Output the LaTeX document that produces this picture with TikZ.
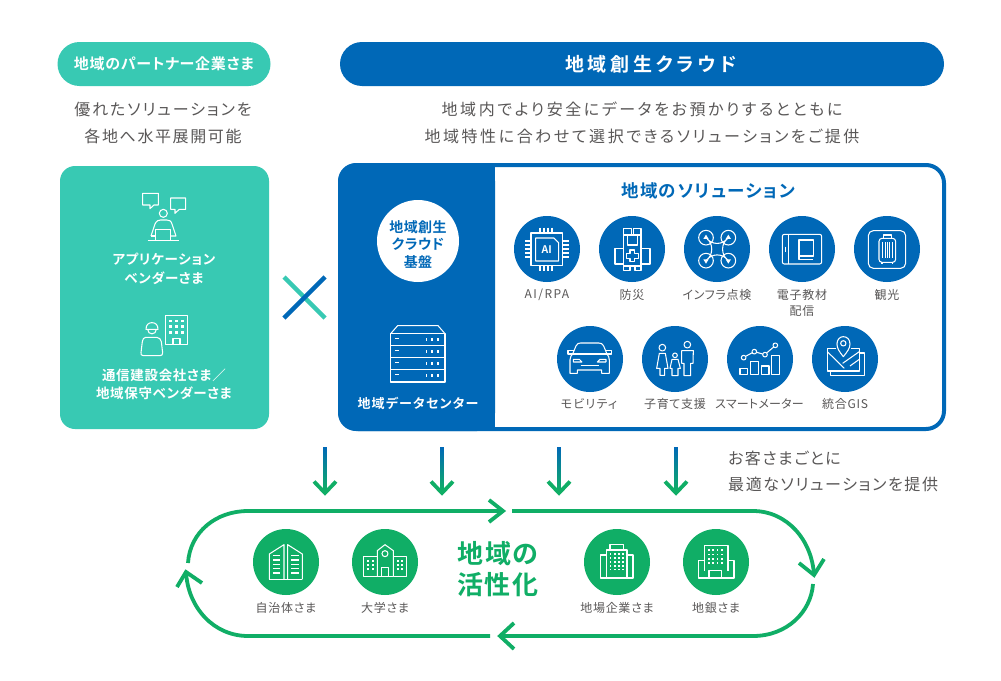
\documentclass[tikz,border=0pt]{standalone}
\usepackage{fontspec}
\setmainfont{Noto Sans CJK JP}[RawFeature=+palt]
\newfontfamily\jpb{Noto Sans CJK JP Bold}[RawFeature=+palt]
\definecolor{teal}{HTML}{38C9B3}
\definecolor{cblue}{HTML}{0068B7}
\definecolor{cgreen}{HTML}{10AE66}
\definecolor{tgray}{HTML}{595757}
\tikzset{
 x=1pt,y=-1pt,
 ic/.style={draw=white,line width=1.05pt,line join=round,fill=none},
 gt/.style={text=tgray,inner sep=0pt,font=\fontsize{16}{16}\addfontfeature{LetterSpace=#1}\selectfont},
 gt/.default=16,
 lb/.style={text=tgray,inner sep=0pt,font=\fontsize{12}{12}\addfontfeature{LetterSpace=#1}\selectfont},
 lb/.default=6,
 wb/.style={text=white,inner sep=0pt,font=\fontsize{13.5}{14}\jpb\addfontfeature{LetterSpace=5}\selectfont},
 bs/.style={inner sep=0pt,text=cblue,font=\fontsize{14}{14}\jpb\addfontfeature{LetterSpace=3}\selectfont},
 cs/.style={inner sep=0pt,text=cgreen,font=\fontsize{26}{26}\jpb\addfontfeature{LetterSpace=5}\selectfont},
 bc/.style={circle,fill=cblue,minimum size=66pt,inner sep=0pt},
 gc/.style={circle,fill=cgreen,minimum size=66pt,inner sep=0pt},
 loopl/.style={draw=cgreen,line width=3.8pt},
 zoomA/.style={shift={(40,150)},x=.3333pt,y=-.3333pt},
 zoomB/.style={shift={(340,160)},x=.3333pt,y=-.3333pt},
 zoomC/.style={shift={(650,200)},x=.3333pt,y=-.3333pt},
 zoomD/.style={shift={(170,500)},x=.3333pt,y=-.3333pt},
 zoomE/.style={shift={(490,500)},x=.3333pt,y=-.3333pt},
}
\begin{document}
\begin{tikzpicture}
\useasboundingbox (0,0) rectangle (1001,680);
\fill[white] (0,0) rectangle (1001,680);
% pills
\node[fill=teal,rounded corners=22pt,minimum width=213pt,minimum height=44pt,inner sep=0pt] (pillL) at (164,64) {};
\node[text=white,inner sep=0pt,font=\fontsize{15}{15}\jpb\addfontfeature{LetterSpace=5}\selectfont] (pillLt) at (pillL) {地域のパートナー企業さま};
\node[fill=cblue,rounded corners=22pt,minimum width=604pt,minimum height=44pt,inner sep=0pt] (pillR) at (642,64) {};
\node[text=white,inner sep=0pt,font=\fontsize{19}{19}\jpb\addfontfeature{LetterSpace=20}\selectfont] (pillRt) at (651,64) {地域創生クラウド};
% texts
\node[gt=12] (t1) at (163,109.5) {優れたソリューションを};
\node[gt=10] (t2) at (163,136.5) {各地へ水平展開可能};
\node[gt] (t3) at (642,109.5) {地域内でより安全にデータをお預かりするとともに};
\node[gt] (t4) at (642,136.5) {地域特性に合わせて選択できるソリューションをご提供};
% boxes
\fill[teal,rounded corners=15pt] (60,166) rectangle (269,429);
\draw[cblue,line width=4pt,fill=white,rounded corners=18pt] (340,165) rectangle (944,429);
\fill[cblue,rounded corners=18pt] (338,163) -- (495,163) -- (495,431) -- (338,431) -- cycle;
\fill[cblue] (400,163) rectangle (495,431);
% cross
\coordinate (xa) at (284,277); \coordinate (xb) at (325,318);
\coordinate (xc) at (325,277); \coordinate (xd) at (284,318);
\draw[teal,line width=4.5pt] (xa) -- (xb);
\draw[cblue,line width=4.5pt] (xc) -- (xd);
% teal labels
\node[wb] (a1) at (164,259) {アプリケーション};
\node[wb] (a2) at (164,278) {ベンダーさま};
\node[wb] (a3) at (164,375) {通信建設会社さま／};
\node[wb] (a4) at (164,393) {地域保守ベンダーさま};
% teal icons
\begin{scope}[zoomA]
\draw[ic] (308,130) -- (355,130) -- (355,165) -- (342,165) -- (330,176) -- (330,165) -- (308,165) -- cycle;
\draw[ic] (392,144) -- (437,144) -- (437,178) -- (418,178) -- (405,190) -- (405,178) -- (392,178) -- cycle;
\draw[ic] (370,190) circle[radius=12];
\draw[ic] (333,258) -- (345,222) .. controls (350,212) and (355,210) .. (362,210) -- (380,210) .. controls (388,210) and (393,212) .. (396,222) -- (408,258) -- (392,258);
\draw[ic] (333,258) -- (347,258);
\draw[ic] (347,272) -- (347,238) -- (392,238) -- (392,272);
\draw[ic] (323,272) -- (418,272);
% worker & building
\draw[ic] (376,497) rectangle (443,584);
\foreach \yy in {513,530,548} \foreach \xx in {392,409,428} \fill[white] (\xx-4,\yy-4) rectangle (\xx+4,\yy+4);
\draw[ic] (399,584) -- (399,565) -- (420,565) -- (420,584);
\draw[ic] (318,538) .. controls (318,525) and (325,518) .. (336,518) .. controls (347,518) and (354,525) .. (354,538) -- cycle;
\draw[ic] (323,538) .. controls (323,556) and (349,556) .. (349,538);
\draw[ic] (317,562) -- (350,562) .. controls (358,562) and (362,568) .. (364,575) -- (368,608) .. controls (368,614) and (366,617) .. (360,617) -- (310,617) .. controls (304,617) and (302,613) .. (303,608) -- (307,575) .. controls (308,568) and (311,562) .. (317,562) -- cycle;
\end{scope}
% blue side
\node[circle,fill=white,minimum size=82pt,inner sep=0pt] (base) at (418,241) {};
\node[bs] (b1) at (418,227) {地域創生};
\node[bs] (b2) at (418,244) {クラウド};
\node[bs] (b3) at (418,262) {基盤};
\begin{scope}[zoomB]
\draw[ic] (152,521) -- (173,497) -- (294,497) -- (315,521);
\draw[ic] (152,521) rectangle (315,666);
\foreach \yy in {557,593,629} \draw[ic] (152,\yy) -- (315,\yy);
\foreach \yy in {539,575,611,647} {
 \draw[white,line width=.9pt] (165,\yy-3) -- (178,\yy-3);
 \foreach \xx in {260,276,294} \draw[white,line width=1.1pt] (\xx,\yy-4) -- (\xx,\yy+3);
}
\end{scope}
\node[text=white,inner sep=0pt,font=\fontsize{13}{13}\jpb\addfontfeature{LetterSpace=9}\selectfont] (dc) at (418,403) {地域データセンター};
\node[inner sep=0pt,text=cblue,font=\fontsize{17.5}{18}\jpb\addfontfeature{LetterSpace=8}\selectfont] (title) at (708,191) {地域のソリューション};
% solution circles
\node[bc] (s1) at (547,249) {};
\node[bc] (s2) at (632,249) {};
\node[bc] (s3) at (717,249) {};
\node[bc] (s4) at (802,249) {};
\node[bc] (s5) at (887,249) {};
\node[bc] (s6) at (590,359) {};
\node[bc] (s7) at (675,359) {};
\node[bc] (s8) at (760,359) {};
\node[bc] (s9) at (845,359) {};
\node[lb=12] (l1) at (547,295) {AI/RPA};
\node[lb] (l2) at (632,295) {防災};
\node[lb] (l3) at (717,295) {インフラ点検};
\node[lb] (l4) at (802,295) {電子教材};
\node[lb] (l4b) at (802,311) {配信};
\node[lb] (l5) at (887,295) {観光};
\node[lb=10] (l6) at (589,404) {モビリティ};
\node[lb] (l7) at (675,404) {子育て支援};
\node[lb=2] (l8) at (759.5,404) {スマートメーター};
\node[lb] (l9) at (845,404) {統合GIS};
% icons zoom B
\begin{scope}[zoomB]
% chip
\draw[ic] (573,219) -- (668,219) -- (668,316) -- (573,316) -- cycle;
\draw[ic] (587,234) -- (642,234) -- (656,248) -- (656,303) -- (587,303) -- cycle;
\foreach \xx in {600,612,624,636} {\draw[ic] (\xx,203) -- (\xx,219); \draw[ic] (\xx,316) -- (\xx,332);}
\foreach \yy in {243,255,267,279,291} {\draw[ic] (556,\yy) -- (573,\yy); \draw[ic] (668,\yy) -- (686,\yy);}
\node[inner sep=0pt,text=white,font=\fontsize{10.5}{10.5}\jpb\selectfont] (ai) at (620,268) {AI};
% backpack
\draw[ic] (851,225) -- (903,225) -- (903,318) -- (851,318) -- cycle;
\draw[ic] (851,265) -- (825,265) -- (825,312) -- (851,312);
\draw[ic] (903,265) -- (930,265) -- (930,312) -- (903,312);
\draw[ic] (851,225) -- (851,205) -- (875,205) -- (875,225);
\draw[ic] (880,225) -- (880,205) -- (903,205) -- (903,225);
\draw[ic] (851,318) -- (851,332) -- (870,332) -- (870,318);
\draw[ic] (885,318) -- (885,332) -- (903,332) -- (903,318);
\draw[ic] (862,225) -- (862,255) -- (892,255) -- (892,225);
\draw[ic] (870,270) -- (884,270) -- (884,281) -- (895,281) -- (895,295) -- (884,295) -- (884,305) -- (870,305) -- (870,295) -- (859,295) -- (859,281) -- (870,281) -- cycle;
% car
\draw[ic] (690,640) -- (690,600) .. controls (690,590) and (695,585) .. (698,582) -- (708,558) .. controls (711,551) and (716,549) .. (722,549) -- (776,549) .. controls (783,549) and (788,551) .. (791,558) -- (801,582) .. controls (805,587) and (808,592) .. (808,600) -- (808,640) -- (785,640) -- (785,630) -- (712,630) -- (712,640) -- cycle;
\draw[ic] (698,582) -- (801,582);
\draw[ic] (698,582) -- (684,582) -- (684,572) -- (703,572);
\draw[ic] (801,582) -- (815,582) -- (815,572) -- (796,572);
\draw[ic] (700,598) -- (718,598) -- (726,606) -- (700,606) -- cycle;
\draw[ic] (798,598) -- (780,598) -- (772,606) -- (798,606) -- cycle;
\draw[ic] (722,617) -- (776,617);
\end{scope}
% icons zoom C
\begin{scope}[zoomC]
% drone
\foreach \xx/\yy in {168/113,235/113,168/182,235/182} \draw[ic] (\xx,\yy) circle[radius=22];
\draw[ic] (168,113) .. controls (185,136) and (218,136) .. (235,113) .. controls (212,130) and (212,165) .. (235,182) .. controls (218,159) and (185,159) .. (168,182) .. controls (191,165) and (191,130) .. (168,113) -- cycle;
\fill[white] (168,104) -- (176,117) -- (160,117) -- cycle;
\fill[white] (235,104) -- (243,117) -- (227,117) -- cycle;
\fill[white] (168,191) -- (176,178) -- (160,178) -- cycle;
\fill[white] (235,191) -- (243,178) -- (227,178) -- cycle;
% tablet
\draw[ic,rounded corners=2pt] (397,103) rectangle (515,192);
\draw[ic] (415,103) -- (415,192);
\draw[white,line width=1pt] (408,140) -- (408,155);
\draw[ic] (447,120) rectangle (490,168);
\draw[ic] (447,168) -- (447,178) -- (490,178);
% suitcase
\draw[ic,rounded corners=5pt] (655,92) rectangle (767,205);
\draw[ic,rounded corners=3pt] (687,115) rectangle (737,187);
\draw[ic] (700,115) -- (700,105) -- (724,105) -- (724,115);
\foreach \xx in {698,706,712,718,726} \draw[white,line width=.8pt] (\xx,127) -- (\xx,175);
\draw[ic] (696,187) -- (696,193); \draw[ic] (728,187) -- (728,193);
% family
\draw[ic] (37,443) circle[radius=10];
\draw[ic] (112,434) circle[radius=10];
\draw[ic] (75,466) circle[radius=7];
\draw[ic] (28,460) -- (46,460) -- (54,505) -- (44,505) -- (44,526) -- (30,526) -- (30,505) -- (20,505) -- cycle;
\draw[ic] (66,478) -- (84,478) -- (91,505) -- (84,505) -- (84,527) -- (66,527) -- (66,505) -- (60,505) -- cycle;
\draw[ic] (95,452) -- (130,452) -- (129,490) -- (122,490) -- (122,527) -- (102,527) -- (102,490) -- (95,490) -- cycle;
% meter
\draw[ic] (270,505) rectangle (293,524);
\draw[ic] (302,484) rectangle (325,524);
\draw[ic] (334,498) rectangle (357,524);
\draw[ic] (365,467) rectangle (388,524);
\draw[ic] (281,473) circle[radius=7];
\draw[ic] (313,455) circle[radius=7];
\draw[ic] (345,464) circle[radius=7];
\draw[ic] (376,436) circle[radius=7];
\draw[ic] (287,469) -- (307,458);
\draw[ic] (320,457) -- (338,462);
\draw[ic] (350,459) -- (371,441);
% map
\draw[ic] (532,446) -- (558,446);
\draw[ic] (532,446) -- (532,513) -- (628,513) -- (628,446) -- (602,446);
\draw[ic] (542,513) -- (542,526) -- (643,526) -- (643,459) -- (628,459);
\draw[ic] (532,455) -- (583,505);
\draw[ic] (628,455) -- (578,490);
\draw[ic] (600,498) -- (628,478);
\draw[ic] (580,470) .. controls (568,455) and (561,445) .. (561,432) .. controls (561,418) and (570,410) .. (580,410) .. controls (591,410) and (600,418) .. (600,432) .. controls (600,445) and (592,455) .. (580,470) -- cycle;
\draw[ic] (580,430) circle[radius=8];
\end{scope}
% down arrows
\foreach \i/\xx in {1/325,2/442,3/559,4/676}{
 \coordinate (dt\i) at (\xx,447);
 \coordinate (db\i) at (\xx,493);
 \coordinate (da\i) at (\xx-11,481.5);
 \coordinate (dc\i) at (\xx+11,481.5);
 \path[top color=cblue,bottom color=cgreen] (\xx-1.9,447) rectangle (\xx+1.9,490);
 \draw[cgreen,line width=3.8pt] (da\i) -- (db\i) -- (dc\i);
}
\node[gt=9,anchor=west] (n1) at (728,458.5) {お客さまごとに};
\node[gt=10,anchor=west] (n2) at (728,484.5) {最適なソリューションを提供};
% loop
\coordinate (p1) at (248,511);
\coordinate (p2) at (503,511);
\coordinate (p3) at (512,511);
\coordinate (p4) at (753,511);
\coordinate (p5) at (814,575);
\coordinate (p6) at (813,584);
\coordinate (p7) at (753,636);
\coordinate (p8) at (500,636);
\coordinate (p9) at (248,636);
\coordinate (p10) at (186,572);
\coordinate (p11) at (188,563);
\draw[loopl] (p11) .. controls (190,532) and (216,511) .. (p1) -- (p2);
\draw[loopl] (p3) -- (p4) .. controls (787,511) and (812,540) .. (p5);
\draw[loopl] (p6) .. controls (811,612) and (787,636) .. (p7) -- (p8);
\draw[loopl] (490,636) -- (p9) .. controls (214,636) and (188,608) .. (p10);
\draw[loopl] (489,500) -- (p2) -- (489,522);
\draw[loopl] (799,563) -- (p5) -- (824,559);
\draw[loopl] (514,623) -- (p8) -- (514,649);
\draw[loopl] (177,587) -- (p10) -- (202,583);
\node[cs] (c1) at (498,554) {地域の};
\node[cs] (c2) at (498,585) {活性化};
\node[gc] (g1) at (286,562) {};
\node[gc] (g2) at (385,562) {};
\node[gc] (g3) at (617,562) {};
\node[gc] (g4) at (716,562) {};
\node[lb] (gl1) at (286,608) {自治体さま};
\node[lb] (gl2) at (385,608) {大学さま};
\node[lb] (gl3) at (617,608) {地場企業さま};
\node[lb] (gl4) at (716,608) {地銀さま};
\begin{scope}[zoomD]
\draw[ic] (298,238) -- (298,162) -- (342,134) -- (342,238);
\draw[ic] (353,238) -- (353,134) -- (397,162) -- (397,238);
\draw[ic] (298,238) -- (397,238);
\foreach \yy in {167,180,193,206,219} {\draw[white,line width=1.2pt] (309,\yy) -- (331,\yy); \draw[white,line width=1.2pt] (364,\yy) -- (386,\yy);}
\draw[ic] (581,170) rectangle (622,229);
\draw[ic] (670,170) rectangle (710,229);
\draw[ic] (622,229) -- (622,152) -- (645,134) -- (670,152) -- (670,229);
\draw[ic] (645,161) circle[radius=9];
\draw[ic] (634,229) -- (634,203) -- (656,203) -- (656,229);
\draw[ic] (622,229) -- (670,229);
\foreach \xx in {595,608,683,696} \foreach \yy in {182,195,208} \fill[white] (\xx-3,\yy-3) rectangle (\xx+3,\yy+3);
\end{scope}
\begin{scope}[zoomE]
\draw[ic] (349,165) -- (331,165) -- (331,234) -- (429,234) -- (429,165) -- (411,165);
\draw[ic] (349,234) -- (349,150) -- (411,150) -- (411,234);
\draw[ic] (360,150) -- (360,134) -- (400,134) -- (400,150);
\foreach \xx in {362,375,388,400} \foreach \yy in {162,173,185,197,209} \fill[white] (\xx-2.5,\yy-2.5) rectangle (\xx+2.5,\yy+2.5);
\draw[ic] (644,182) -- (625,182) -- (625,234) -- (732,234) -- (732,182) -- (714,182);
\draw[ic] (644,212) -- (644,136) -- (714,136) -- (714,212);
\draw[ic] (657,234) -- (657,212) -- (695,212) -- (695,234);
\foreach \xx in {657,670,683,697} \foreach \yy in {150,163,176,189} \fill[white] (\xx-2.5,\yy-2.5) rectangle (\xx+2.5,\yy+2.5);
\end{scope}
\end{tikzpicture}
\end{document}
